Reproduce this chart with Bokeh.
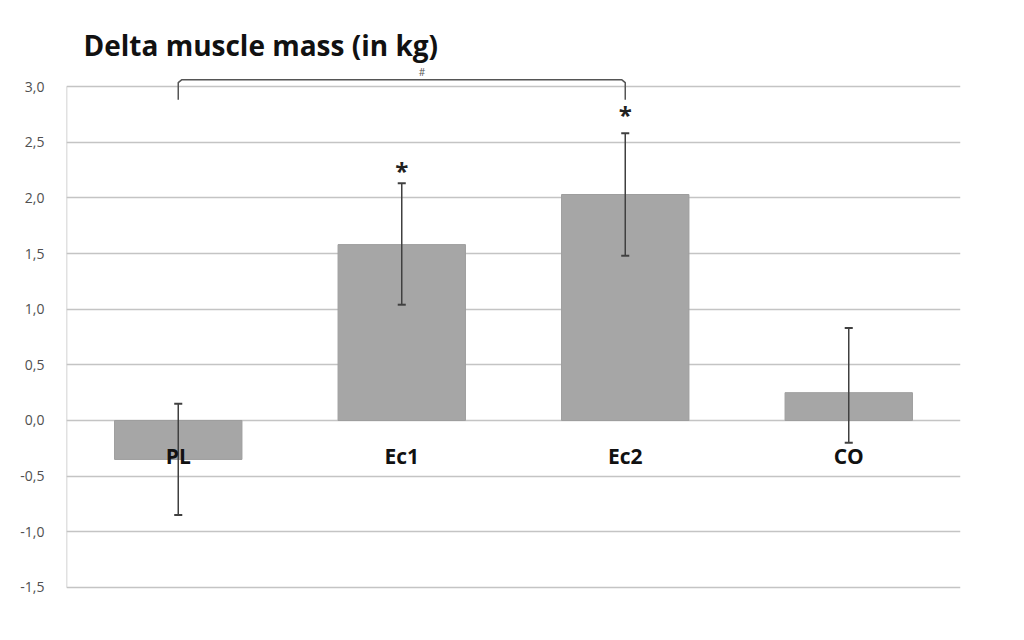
from bokeh.plotting import figure
from bokeh.models import FixedTicker, Range1d
from bokeh.core.properties import value
from bokeh.embed import file_html
from bokeh.resources import INLINE

categories = ["PL", "Ec1", "Ec2", "CO"]
means = [-0.35, 1.58, 2.03, 0.25]
err_low = [-0.85, 1.04, 1.48, -0.20]
err_high = [0.15, 2.13, 2.58, 0.83]
y_ticks = [-1.5, -1.0, -0.5, 0.0, 0.5, 1.0, 1.5, 2.0, 2.5, 3.0]
y_tick_labels = ["-1,5", "-1,0", "-0,5", "0,0", "0,5", "1,0", "1,5", "2,0", "2,5", "3,0"]
star_cats = ["Ec1", "Ec2"]
star_y = [2.25, 2.75]
title_text = "Delta muscle mass (in kg)"

xc = [i + 0.5 for i in range(len(categories))]

p = figure(width=1000, height=620, output_backend="svg", toolbar_location=None,
           x_range=Range1d(0, 4), y_range=Range1d(-1.617, 3.593),
           min_border_left=66, min_border_right=40, min_border_top=20, min_border_bottom=20)
p.outline_line_color = None
p.background_fill_color = "white"
p.border_fill_color = "white"

p.xaxis.visible = False
p.xgrid.visible = False
ya = p.yaxis[0]
ya.ticker = FixedTicker(ticks=y_ticks)
ya.major_label_overrides = {t: l for t, l in zip(y_ticks, y_tick_labels)}
ya.axis_line_color = None
ya.major_tick_line_color = None
ya.minor_tick_line_color = None
ya.major_label_standoff = 16
ya.major_label_text_font = "Open Sans"
ya.major_label_text_font_size = "14px"
ya.major_label_text_color = "#505050"
p.ygrid.ticker = FixedTicker(ticks=y_ticks)
p.ygrid.grid_line_color = "#c4c4c4"
p.ygrid.grid_line_width = 1.5

# left axis line from -1.5 to 3.0
p.segment(x0=[0], y0=[y_ticks[0]], x1=[0], y1=[y_ticks[-1]], line_color="#c4c4c4", line_width=1.5)

# bars
p.vbar(x=xc, top=means, bottom=0, width=0.57, fill_color="#a6a6a6", line_color="#9e9e9e", line_width=1)

# error bars
p.segment(x0=xc, y0=err_low, x1=xc, y1=err_high, line_color="#404040", line_width=1.5)
cap = 0.018
p.segment(x0=[x - cap for x in xc], y0=err_high, x1=[x + cap for x in xc], y1=err_high,
          line_color="#404040", line_width=2)
p.segment(x0=[x - cap for x in xc], y0=err_low, x1=[x + cap for x in xc], y1=err_low,
          line_color="#404040", line_width=2)

# category labels
p.text(x=xc, y=[-0.32] * 4, text=categories, text_align="center", text_baseline="middle",
       text_font=value("Open Sans"), text_font_style="bold", text_font_size="21px", text_color="#111111")

# stars
sx = [xc[categories.index(c)] for c in star_cats]
p.text(x=sx, y=star_y, text=["*"] * len(sx), text_align="center", text_baseline="middle",
       text_font=value("Open Sans"), text_font_style="bold", text_font_size="24px", text_color="#222222")

# bracket between PL and Ec2
bx0, bx1 = xc[0], xc[2]
p.line(x=[bx0, bx0, bx0 + 0.015, bx1 - 0.015, bx1, bx1],
       y=[2.88, 3.035, 3.06, 3.06, 3.035, 2.88], line_color="#555555", line_width=1.5)
p.text(x=[(bx0 + bx1) / 2 + 0.09], y=[3.13], text=["#"], text_align="center", text_baseline="middle",
       text_font=value("Open Sans"), text_font_size="10px", text_color="#555555")

# title
p.text(x=[0.076], y=[3.37], text=[title_text], text_align="left", text_baseline="middle",
       text_font=value("Open Sans"), text_font_style="bold", text_font_size="28px", text_color="#111111")

open("out.html", "w").write(file_html(p, INLINE))
